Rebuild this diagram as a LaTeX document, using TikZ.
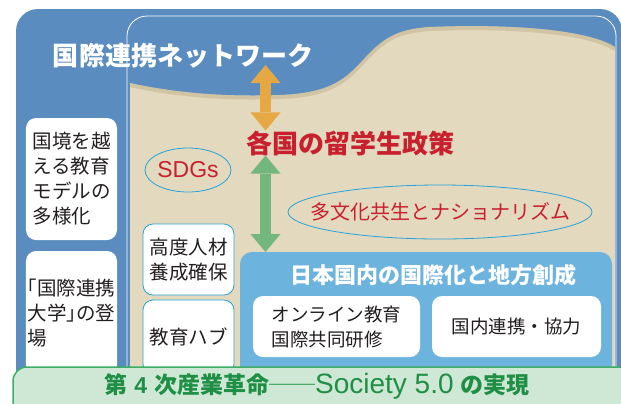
\documentclass[tikz,border=0pt]{standalone}
\usepackage{fontspec}
\setmainfont{Noto Sans CJK JP}
\newfontfamily\latfont{Liberation Sans}
\usetikzlibrary{arrows.meta}
\definecolor{netblue}{HTML}{5A8CC0}
\definecolor{sand}{HTML}{E3D9BE}
\definecolor{sandshade}{HTML}{B8A67E}
\definecolor{skyblue}{HTML}{6CB3DE}
\definecolor{rimcyan}{HTML}{26A3DA}
\definecolor{policyred}{HTML}{C8202F}
\definecolor{arroworange}{HTML}{E5A843}
\definecolor{arrowgreen}{HTML}{73B67E}
\definecolor{barfill}{HTML}{CFE8D5}
\definecolor{barline}{HTML}{3DAE66}
\definecolor{bartext}{HTML}{1F8F46}
\definecolor{ink}{HTML}{231F20}
\begin{document}
\begin{tikzpicture}[x=1bp, y=-1bp]
\tikzset{ inner sep=0pt, outer sep=0pt,
  wbox/.style={fill=white, rounded corners=10bp, text=ink, align=left,
    font=\fontsize{19.5bp}{25bp}\selectfont},
  rbox/.style={wbox, draw=rimcyan, line width=0.8bp},
  ring/.style={draw=rimcyan, line width=0.8bp},
  fatarrow/.style={line width=11bp,
    {Triangle[length=18bp,width=30bp,line width=0pt]}-{Triangle[length=18bp,width=30bp,line width=0pt]}},
}

\useasboundingbox (0,0) rectangle (621,403);
\clip (0,0) rectangle (621,403);

% fondo
\fill [netblue, rounded corners=22bp] (16,9) rectangle (622,440);
\draw [white, line width=0.8bp, rounded corners=20bp] (127,16) rectangle (616,440);
\fill [sand] (130,83) .. controls (175,93) and (225,97) .. (280,95)
  .. controls (330,93) and (345,80) .. (365,58)
  .. controls (385,36) and (400,29) .. (430,27)
  .. controls (500,24) and (585,28) .. (615,47) -- (615,440) -- (130,440) -- cycle;
\draw [sandshade, line width=4bp, opacity=.4, yshift=-2bp] (130,83) .. controls (175,93) and (225,97) .. (280,95)
  .. controls (330,93) and (345,80) .. (365,58)
  .. controls (385,36) and (400,29) .. (430,27)
  .. controls (500,24) and (585,28) .. (615,47);

% titulos
\node [text=white, font=\bfseries\fontsize{26bp}{26bp}\selectfont] (net) at (183,56) {国際連携ネットワーク};
\node [text=policyred, font=\bfseries\fontsize{26bp}{26bp}\selectfont] (policy) at (350,143) {各国の留学生政策};

% colunas
\node [wbox, minimum width=91bp, minimum height=122bp] (border) at (71.5,179) {国境を越\\える教育\\モデルの\\多様化};
\node [wbox, minimum width=91bp, minimum height=124bp] (univ) at (71.5,313) {\kern-.5em「国際連携\\大学」\kern-.5em の登\\場};
\node [rbox, minimum width=91bp, minimum height=71bp] (talent) at (188.5,259.5) {高度人材\\養成確保};
\node [rbox, minimum width=91bp, minimum height=74bp] (hub) at (188.5,337) {教育ハブ};

% elipses
\node [text=policyred, font=\latfont\fontsize{23bp}{23bp}\selectfont] (sdgs) at (188,170) {SDGs};
\draw [ring] (sdgs) ellipse [x radius=43bp, y radius=22bp];
\node [text=policyred, font=\fontsize{20bp}{20bp}\selectfont] (multi) at (440,212) {多文化共生とナショナリズム};
\draw [ring] (multi) ellipse [x radius=152bp, y radius=27bp];

% nacional
\node [fill=skyblue, rounded corners=12bp, minimum width=372bp, minimum height=150bp] (dom) at (426,327) {};
\node [text=white, font=\bfseries\fontsize{22bp}{22bp}\selectfont] (domtitle) at (433,275) {日本国内の国際化と地方創成};
\node [wbox, font=\fontsize{18.5bp}{25bp}\selectfont, minimum width=167bp, minimum height=61bp] (online) at (336.5,326.5) {オンライン教育\\国際共同研修};
\node [wbox, font=\fontsize{18.5bp}{25bp}\selectfont, minimum width=169bp, minimum height=61bp] (local) at (516.5,326.5) {国内連携・協力};

% setas
\coordinate (o1) at (265.5,65);
\draw [fatarrow, arroworange] (o1) -- (o1 |- policy.north);
\draw [fatarrow, arrowgreen] (o1 |- policy.south) -- (o1 |- dom.north);

% faixa
\node [fill=barfill, draw=barline, line width=1.5bp, rounded corners=14bp, minimum width=640bp, minimum height=60bp, anchor=north west] (bar) at (13,367) {};
\node [text=bartext, font=\bfseries\fontsize{23bp}{23bp}\selectfont] (rev) at (317,386) {第\hspace{7bp}{\latfont 4}\hspace{7bp}次産業革命──{\mdseries\latfont\fontsize{28bp}{28bp}\selectfont Society 5.0}\hspace{7bp}の実現};

\end{tikzpicture}
\end{document}
